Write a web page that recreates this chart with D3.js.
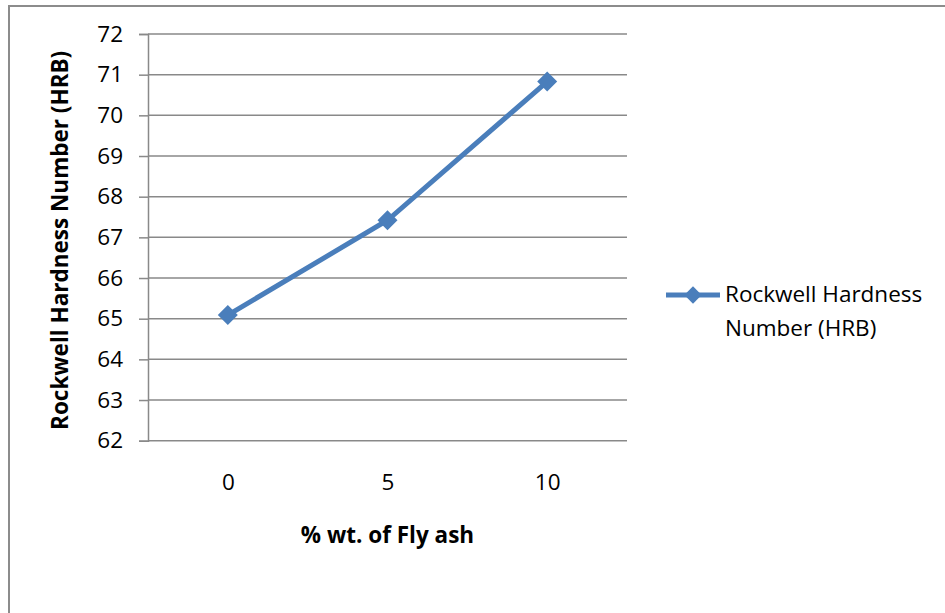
<!DOCTYPE html>
<html>
<head>
<meta charset="utf-8">
<script src="https://cdn.jsdelivr.net/npm/d3@7"></script>
<style>
  html, body { margin: 0; padding: 0; background: #fff; }
  svg { display: block; font-family: "Open Sans", Lato, sans-serif; }
</style>
</head>
<body>
<svg id="chart" width="945" height="613"></svg>
<script>
// Fly ash content (% wt.) and measured Rockwell hardness
const flyAsh = ["0", "5", "10"];
const hardness = [65.09, 67.42, 70.83];
const yTicks = [62, 63, 64, 65, 66, 67, 68, 69, 70, 71, 72];
const seriesName = ["Rockwell Hardness", "Number (HRB)"];

const svg = d3.select("#chart");
const lineColor = "#4a7ebb";
const gridColor = "#898989";
const fontFamily = "'Open Sans', Lato, sans-serif";
const fontSize = 22.5;

// outer chart frame
svg.append("rect")
  .attr("x", 9).attr("y", 6)
  .attr("width", 945).attr("height", 620)
  .attr("fill", "none").attr("stroke", "#8c8c8c").attr("stroke-width", 2);

const plot = { left: 148, right: 627, top: 34, bottom: 440.7 };

const x = d3.scalePoint().domain(flyAsh)
  .range([plot.left, plot.right]).padding(0.5);
const y = d3.scaleLinear().domain([62, 72])
  .range([plot.bottom, plot.top]);

// horizontal gridlines
svg.append("g").selectAll("line")
  .data(yTicks.slice(1))
  .join("line")
  .attr("x1", plot.left).attr("x2", plot.right)
  .attr("y1", d => y(d)).attr("y2", d => y(d))
  .attr("stroke", gridColor).attr("stroke-width", 1.5);

// y axis
const yAxis = svg.append("g")
  .attr("transform", `translate(${plot.left},0)`)
  .call(d3.axisLeft(y).tickValues(yTicks).tickSize(9).tickPadding(16).tickFormat(d3.format("d")));
yAxis.select(".domain").attr("stroke", gridColor).attr("stroke-width", 1.5);
yAxis.selectAll(".tick line").attr("stroke", gridColor).attr("stroke-width", 1.5);
yAxis.selectAll(".tick text").attr("font-size", fontSize).attr("fill", "#000")
  .attr("font-family", fontFamily);

// x axis
const xAxis = svg.append("g")
  .attr("transform", `translate(0,${plot.bottom})`)
  .call(d3.axisBottom(x).tickSize(0).tickPadding(33));
xAxis.select(".domain").attr("stroke", gridColor).attr("stroke-width", 1.5)
  .attr("d", `M${plot.left},0H${plot.right}`);
xAxis.selectAll(".tick text").attr("font-size", fontSize).attr("fill", "#000")
  .attr("font-family", fontFamily);

// axis titles
svg.append("text")
  .attr("x", x("5")).attr("y", 543)
  .attr("text-anchor", "middle")
  .attr("font-size", fontSize).attr("font-weight", "bold")
  .text("% wt. of Fly ash");

svg.append("text")
  .attr("transform", `translate(68,${(plot.top + plot.bottom) / 2 + 3}) rotate(-90)`)
  .attr("text-anchor", "middle")
  .attr("font-size", fontSize).attr("font-weight", "bold")
  .text("Rockwell Hardness Number (HRB)");

// data series
const data = flyAsh.map((k, i) => ({ k, v: hardness[i] }));
svg.append("path")
  .datum(data)
  .attr("fill", "none")
  .attr("stroke", lineColor).attr("stroke-width", 5)
  .attr("d", d3.line().x(d => x(d.k)).y(d => y(d.v)));

svg.append("g").selectAll("path")
  .data(data)
  .join("path")
  .attr("transform", d => `translate(${x(d.k)},${y(d.v)}) rotate(45)`)
  .attr("d", d3.symbol().type(d3.symbolSquare).size(200))
  .attr("fill", lineColor);

// legend
const lg = svg.append("g").attr("transform", "translate(666,295)");
lg.append("line").attr("x1", 0).attr("x2", 54).attr("y1", 0).attr("y2", 0)
  .attr("stroke", lineColor).attr("stroke-width", 5);
lg.append("path").attr("transform", "translate(27,0) rotate(45)")
  .attr("d", d3.symbol().type(d3.symbolSquare).size(150))
  .attr("fill", lineColor);
lg.selectAll("text").data(seriesName).join("text")
  .attr("x", 59).attr("y", (d, i) => 7 + i * 34)
  .attr("font-size", fontSize).attr("fill", "#000")
  .text(d => d);
</script>
</body>
</html>
